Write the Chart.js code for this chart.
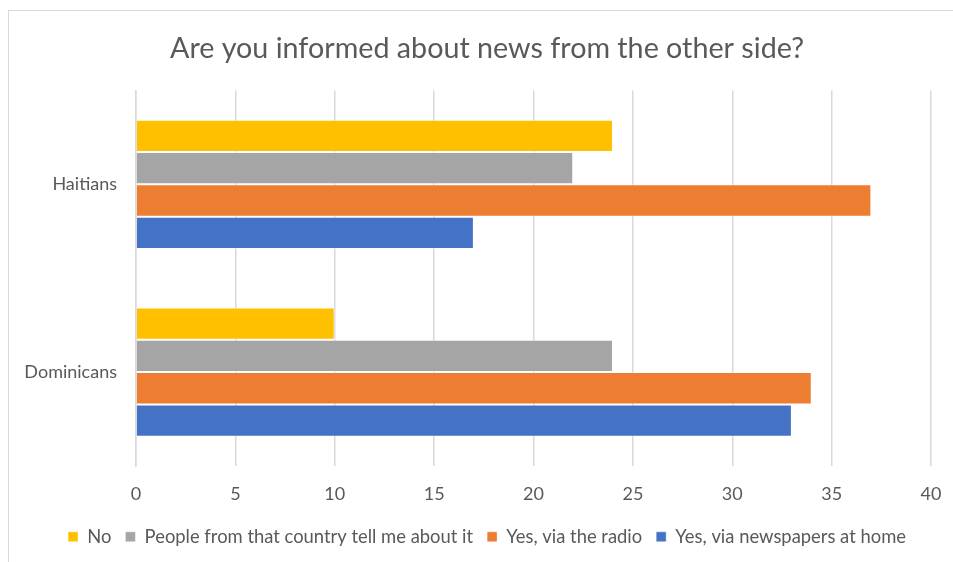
<!DOCTYPE html>
<html>
<head>
<meta charset="utf-8">
<script src="https://cdn.jsdelivr.net/npm/chart.js@4.4.1/dist/chart.umd.min.js"></script>
<style>
  html, body { margin: 0; padding: 0; background: #fff; overflow: hidden; }
  #frame {
    position: absolute; left: 8px; top: 10px;
    width: 980px; height: 600px;
    border: 1px solid #d9d9d9;
  }
  #wrap { position: absolute; left: 0; top: 0; width: 974px; height: 562px; }
</style>
</head>
<body>
<div id="frame"></div>
<div id="wrap"><canvas id="chart" width="974" height="562"></canvas></div>
<script>
const categories = ['Haitians', 'Dominicans']
const seriesNames = ['No', 'People from that country tell me about it', 'Yes, via the radio', 'Yes, via newspapers at home']
const noValues = [24, 10]
const peopleValues = [22, 24]
const radioValues = [37, 34]
const newspaperValues = [17, 33]
const xTicks = [0, 5, 10, 15, 20, 25, 30, 35, 40]

const colors = ['#FFC000', '#A5A5A5', '#ED7D31', '#4472C4']
const textColor = '#595959'
const fontFamily = 'Lato, "Open Sans", sans-serif'

const seriesValues = [noValues, peopleValues, radioValues, newspaperValues]
const datasets = seriesNames.map((name, i) => ({
  label: name,
  data: seriesValues[i],
  backgroundColor: colors[i],
  borderColor: 'rgba(255,255,255,0.45)',
  borderWidth: 1,
  categoryPercentage: 0.688,
  barPercentage: 1
}))

const ctx = document.getElementById('chart').getContext('2d')
new Chart(ctx, {
  type: 'bar',
  data: { labels: categories, datasets },
  options: {
    indexAxis: 'y',
    responsive: false,
    animation: false,
    layout: { padding: { left: 0, right: 0, top: 0, bottom: 6 } },
    plugins: {
      title: {
        display: true,
        text: 'Are you informed about news from the other side?',
        color: textColor,
        font: { family: fontFamily, size: 28.7, weight: 'normal' },
        padding: { top: 32, bottom: 24 }
      },
      legend: {
        position: 'bottom',
        labels: {
          color: textColor,
          font: { family: fontFamily, size: 18.4 },
          boxWidth: 10,
          boxHeight: 10,
          padding: 14
        }
      },
      tooltip: { enabled: false }
    },
    scales: {
      x: {
        min: 0,
        max: 40,
        afterBuildTicks: scale => { scale.ticks = xTicks.map(v => ({ value: v })) },
        afterFit: scale => { scale.height = 47.6 },
        grid: { color: '#d9d9d9', lineWidth: 1.5, drawTicks: false },
        border: { display: false },
        ticks: {
          color: textColor,
          font: { family: fontFamily, size: 18 },
          padding: 17
        }
      },
      y: {
        // left edge of the plot sits at x = 136
        afterFit: scale => { scale.width = 136 },
        grid: { display: false, drawTicks: false },
        border: { display: true, color: '#d9d9d9', width: 1.5 },
        ticks: {
          color: textColor,
          font: { family: fontFamily, size: 18 },
          padding: 19
        }
      },
      // empty margin on the right so the plot ends at x = 931
      yRight: {
        type: 'category',
        position: 'right',
        afterFit: scale => { scale.width = 43 },
        grid: { display: false, drawTicks: false },
        border: { display: false },
        ticks: { display: false }
      }
    }
  }
})
</script>
</body>
</html>
